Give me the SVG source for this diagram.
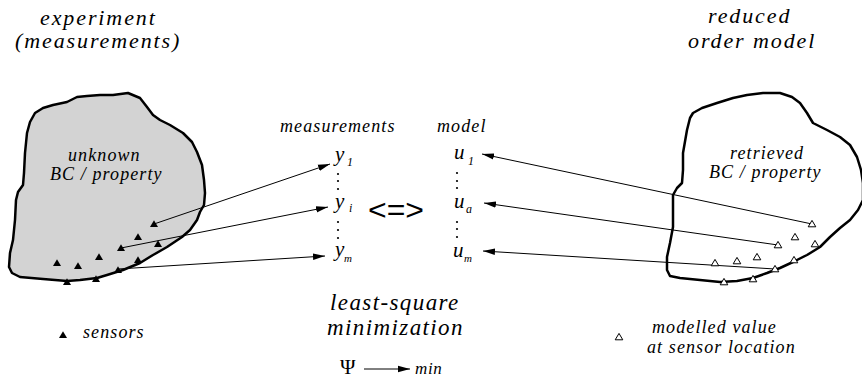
<svg xmlns="http://www.w3.org/2000/svg" width="862" height="383" viewBox="0 0 862 383">
<style>
  .t { font-family: "Liberation Serif", "Times New Roman", serif; font-style: italic; fill: #000; }
  .ttl { font-size: 22px; letter-spacing: 1.9px; }
  .lbl { font-size: 18px; letter-spacing: 1.1px; }
  .big { font-size: 23px; letter-spacing: 1.4px; }
  .blob { stroke: #000; stroke-width: 2.5; stroke-linejoin: round; }
  .conn { stroke: #000; stroke-width: 1; fill: none; }
  .dot { fill: #000; }
</style>
<defs>
  <marker id="ah" markerUnits="userSpaceOnUse" markerWidth="13" markerHeight="8" refX="12" refY="4" orient="auto">
    <path d="M0,0.8 L12,4 L0,7.2 Z" fill="#000"/>
  </marker>
  <path id="tf" d="M0,-3.8 L4,3 L-4,3 Z" fill="#000"/>
  <path id="to" d="M0,-3.6 L3.8,2.8 L-3.8,2.8 Z" fill="#fff" stroke="#000" stroke-width="1"/>
</defs>

<g id="title-left">
  <text class="t ttl" x="40" y="25">experiment</text>
  <text class="t ttl" x="15" y="48">(measurements)</text>
</g>
<g id="title-right">
  <text class="t ttl" x="708" y="23">reduced</text>
  <text class="t ttl" x="688" y="48">order model</text>
</g>

<g id="experiment">
  <path class="blob" fill="#d3d3d3" d="M35,113 L43,108 L53,105 L67,102 L77,97 L87,96 L100,95 L113,95 L128,93 L140,98 L147,107 L153,115 L160,120 L170,125 L183,133 L192,142 L197,152 L202,165 L204,180 L205,193 L204,205 L200,212 L197,220 L190,230 L182,237 L167,247 L153,255 L140,263 L123,270 L107,275 L97,278 L80,280 L67,281 L43,279 L20,277 L12,273 L9,267 L10,253 L13,240 L15,220 L16,200 L18,192 L23,185 L24,173 L25,153 L27,133 L30,122 Z"/>
  <text class="t lbl" x="68" y="161">unknown</text>
  <text class="t lbl" x="50" y="180">BC / property</text>
</g>

<g id="model-region">
  <path class="blob" fill="none" d="M693,113 L702,108 L717,103 L733,98 L747,95 L763,93 L780,93 L792,97 L800,103 L807,113 L813,123 L827,130 L840,137 L850,145 L857,157 L861,170 L863,183 L863,200 L858,210 L850,220 L840,228 L830,237 L820,247 L807,255 L793,262 L780,268 L767,273 L753,278 L737,281 L720,282 L700,280 L680,278 L670,276 L667,270 L667,257 L670,243 L673,227 L673,210 L673,195 L677,188 L682,183 L683,170 L683,153 L687,130 L690,118 Z"/>
  <text class="t lbl" x="730" y="159">retrieved</text>
  <text class="t lbl" x="709" y="178">BC / property</text>
</g>

<g id="connectors">
  <line class="conn" x1="154" y1="224" x2="330" y2="164" marker-end="url(#ah)"/>
  <line class="conn" x1="121" y1="248" x2="328" y2="207" marker-end="url(#ah)"/>
  <line class="conn" x1="118" y1="269" x2="325" y2="256" marker-end="url(#ah)"/>
  <line class="conn" x1="812" y1="224" x2="482" y2="154" marker-end="url(#ah)"/>
  <line class="conn" x1="778" y1="245" x2="484" y2="203" marker-end="url(#ah)"/>
  <line class="conn" x1="775" y1="269" x2="483" y2="251" marker-end="url(#ah)"/>
</g>

<g id="sensors">
  <use href="#tf" x="154" y="224"/>
  <use href="#tf" x="138" y="237"/>
  <use href="#tf" x="158" y="244"/>
  <use href="#tf" x="121" y="248"/>
  <use href="#tf" x="99" y="257"/>
  <use href="#tf" x="138" y="260"/>
  <use href="#tf" x="57" y="263"/>
  <use href="#tf" x="78" y="266"/>
  <use href="#tf" x="118" y="270"/>
  <use href="#tf" x="96" y="279"/>
  <use href="#tf" x="67" y="282"/>
</g>

<g id="modelled-values">
  <use href="#to" x="812" y="224"/>
  <use href="#to" x="795" y="237"/>
  <use href="#to" x="778" y="245"/>
  <use href="#to" x="815" y="244"/>
  <use href="#to" x="757" y="257"/>
  <use href="#to" x="737" y="261"/>
  <use href="#to" x="715" y="263"/>
  <use href="#to" x="794" y="260"/>
  <use href="#to" x="775" y="269"/>
  <use href="#to" x="753" y="279"/>
  <use href="#to" x="724" y="282"/>
</g>

<g id="measurements">
  <text class="t lbl" x="280" y="132">measurements</text>
  <text class="t" x="335" y="161" font-size="21">y</text>
  <text class="t" x="347" y="166" font-size="12">1</text>
  <circle class="dot" cx="338" cy="174" r="1.1"/>
  <circle class="dot" cx="338" cy="181" r="1.1"/>
  <circle class="dot" cx="338" cy="189" r="1.1"/>
  <text class="t" x="335" y="208" font-size="21">y</text>
  <text class="t" x="349" y="212" font-size="12">i</text>
  <circle class="dot" cx="338" cy="222" r="1.1"/>
  <circle class="dot" cx="338" cy="230" r="1.1"/>
  <circle class="dot" cx="338" cy="238" r="1.1"/>
  <text class="t" x="335" y="256" font-size="21">y</text>
  <text class="t" x="344" y="262" font-size="11">m</text>
</g>

<g id="equivalence">
  <text x="368" y="220" font-family="Liberation Sans, Arial, sans-serif" font-size="30" textLength="56" lengthAdjust="spacingAndGlyphs">&lt;=&gt;</text>
</g>

<g id="model">
  <text class="t lbl" x="437" y="132">model</text>
  <text class="t" x="454" y="159" font-size="21">u</text>
  <text class="t" x="468" y="165" font-size="12">1</text>
  <circle class="dot" cx="457" cy="173" r="1.1"/>
  <circle class="dot" cx="457" cy="181" r="1.1"/>
  <circle class="dot" cx="457" cy="188" r="1.1"/>
  <text class="t" x="454" y="208" font-size="21">u</text>
  <text class="t" x="466" y="213" font-size="12">a</text>
  <circle class="dot" cx="457" cy="222" r="1.1"/>
  <circle class="dot" cx="457" cy="229" r="1.1"/>
  <circle class="dot" cx="457" cy="237" r="1.1"/>
  <text class="t" x="453" y="257" font-size="21">u</text>
  <text class="t" x="464" y="262" font-size="11">m</text>
</g>

<g id="minimization">
  <text class="t big" x="330" y="310">least-square</text>
  <text class="t big" x="327" y="335">minimization</text>
  <text x="340" y="374" font-family="Liberation Serif, Times New Roman, serif" font-size="21">Ψ</text>
  <line class="conn" x1="364" y1="369" x2="410" y2="369" marker-end="url(#ah)"/>
  <text class="t" x="415" y="374" font-size="17" letter-spacing="0.6">min</text>
</g>

<g id="legend-sensors">
  <use href="#tf" x="63" y="335"/>
  <text class="t lbl" x="83" y="338">sensors</text>
</g>

<g id="legend-modelled">
  <use href="#to" x="619" y="337"/>
  <text class="t lbl" x="652" y="333">modelled value</text>
  <text class="t lbl" x="647" y="353">at sensor location</text>
</g>
</svg>
